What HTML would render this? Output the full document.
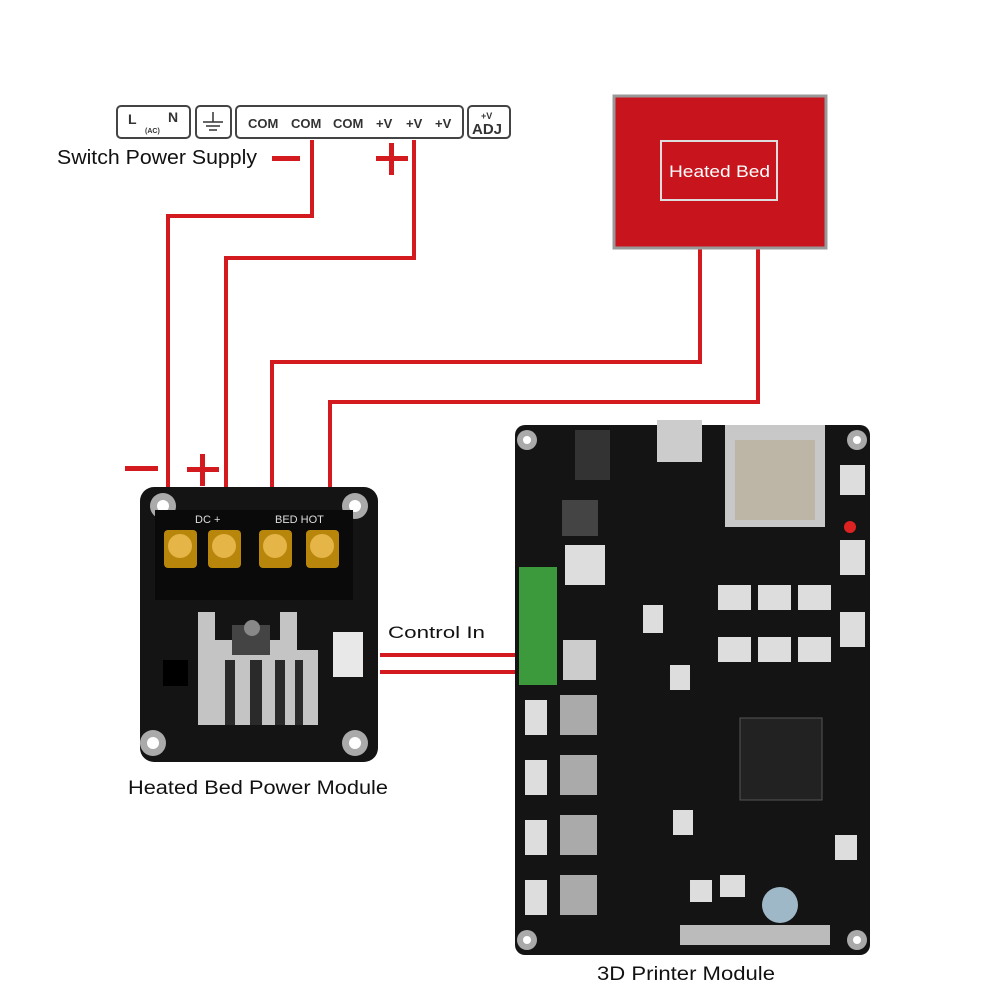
<!DOCTYPE html>
<html><head><style>
body{margin:0;background:#fff;}
svg{display:block;}
text{font-family:"Liberation Sans",sans-serif;}
</style></head><body>
<svg width="1000" height="1000" viewBox="0 0 1000 1000" xmlns="http://www.w3.org/2000/svg">
<rect width="1000" height="1000" fill="#fff"/>
<g fill="none" stroke="#444" stroke-width="2">
<rect x="117" y="106" width="73" height="32" rx="4"/>
<rect x="196" y="106" width="35" height="32" rx="4"/>
<rect x="236" y="106" width="227" height="32" rx="4"/>
<rect x="468" y="106" width="42" height="32" rx="4"/>
</g>
<g fill="#333" font-weight="bold">
<text x="128" y="124" font-size="14">L</text>
<text x="145" y="133" font-size="7">(AC)</text>
<text x="168" y="122" font-size="14">N</text>
<text x="248" y="128" font-size="13">COM</text>
<text x="291" y="128" font-size="13">COM</text>
<text x="333" y="128" font-size="13">COM</text>
<text x="376" y="128" font-size="13">+V</text>
<text x="406" y="128" font-size="13">+V</text>
<text x="435" y="128" font-size="13">+V</text>
<text x="481" y="119" font-size="9">+V</text>
<text x="472" y="134" font-size="15">ADJ</text>
</g>
<g stroke="#333" stroke-width="1.5"><line x1="213" y1="112" x2="213" y2="122"/><line x1="203" y1="122" x2="223" y2="122"/><line x1="206" y1="126" x2="220" y2="126"/><line x1="209" y1="130" x2="217" y2="130"/></g>
<text x="57" y="164" font-size="20" fill="#111" textLength="200" lengthAdjust="spacingAndGlyphs">Switch Power Supply</text>
<g fill="#d21a1f">
<rect x="272" y="156" width="28" height="5"/>
<rect x="376" y="156" width="32" height="5"/><rect x="389" y="143" width="5" height="32"/>
<rect x="125" y="466" width="33" height="5"/>
<rect x="187" y="467" width="32" height="5"/><rect x="200" y="454" width="5" height="32"/>
</g>
<g fill="none" stroke="#d21a1f" stroke-width="4">
<polyline points="312,140 312,216 168,216 168,492"/>
<polyline points="414,140 414,258 226,258 226,492"/>
<polyline points="700,248 700,362 272,362 272,492"/>
<polyline points="758,248 758,402 330,402 330,492"/>
<line x1="380" y1="655" x2="528" y2="655"/>
<line x1="380" y1="672" x2="528" y2="672"/>
</g>
<rect x="614" y="96" width="212" height="152" fill="#c8141c" stroke="#999" stroke-width="3"/>
<rect x="661" y="141" width="116" height="59" fill="none" stroke="#ddd" stroke-width="2"/>
<text x="669" y="177" font-size="17" fill="#fff" textLength="101" lengthAdjust="spacingAndGlyphs">Heated Bed</text>
<rect x="140" y="487" width="238" height="275" rx="14" fill="#141414"/>
<g fill="#aaa"><circle cx="163" cy="506" r="13"/><circle cx="355" cy="506" r="13"/><circle cx="153" cy="743" r="13"/><circle cx="355" cy="743" r="13"/></g>
<g fill="#fff"><circle cx="163" cy="506" r="6"/><circle cx="355" cy="506" r="6"/><circle cx="153" cy="743" r="6"/><circle cx="355" cy="743" r="6"/></g>
<rect x="155" y="510" width="100" height="90" fill="#0a0a0a"/>
<rect x="255" y="510" width="98" height="90" fill="#0a0a0a"/>
<g fill="#b8860b"><rect x="164" y="530" width="33" height="38" rx="4"/><rect x="208" y="530" width="33" height="38" rx="4"/><rect x="259" y="530" width="33" height="38" rx="4"/><rect x="306" y="530" width="33" height="38" rx="4"/></g>
<g fill="#e5b548"><circle cx="180" cy="546" r="12"/><circle cx="224" cy="546" r="12"/><circle cx="275" cy="546" r="12"/><circle cx="322" cy="546" r="12"/></g>
<text x="195" y="523" font-size="11" fill="#ddd">DC +</text>
<text x="275" y="523" font-size="11" fill="#ddd">BED HOT</text>
<path d="M198,612 L215,612 L215,640 L280,640 L280,612 L297,612 L297,650 L318,650 L318,725 L198,725 Z" fill="#c4c4c4"/>
<rect x="232" y="625" width="38" height="30" fill="#444"/>
<circle cx="252" cy="628" r="8" fill="#888"/>
<g fill="#2a2a2a"><rect x="225" y="660" width="10" height="65"/><rect x="250" y="660" width="12" height="65"/><rect x="275" y="660" width="10" height="65"/><rect x="295" y="660" width="8" height="65"/></g>
<rect x="333" y="632" width="30" height="45" fill="#e8e8e8"/>
<rect x="163" y="660" width="25" height="26" fill="#000"/>
<text x="128" y="794" font-size="19" fill="#111" textLength="260" lengthAdjust="spacingAndGlyphs">Heated Bed Power Module</text>
<text x="388" y="638" font-size="17" fill="#111" textLength="97" lengthAdjust="spacingAndGlyphs">Control In</text>
<rect x="515" y="425" width="355" height="530" rx="10" fill="#141414"/>
<g fill="#aaa"><circle cx="527" cy="440" r="10"/><circle cx="857" cy="440" r="10"/><circle cx="527" cy="940" r="10"/><circle cx="857" cy="940" r="10"/></g>
<g fill="#fff"><circle cx="527" cy="440" r="4"/><circle cx="857" cy="440" r="4"/><circle cx="527" cy="940" r="4"/><circle cx="857" cy="940" r="4"/></g>
<rect x="725" y="425" width="100" height="102" fill="#c8c8c8"/>
<rect x="735" y="440" width="80" height="80" fill="#bdb5a5"/>
<rect x="657" y="420" width="45" height="42" fill="#ccc"/>
<rect x="575" y="430" width="35" height="50" fill="#333"/>
<rect x="562" y="500" width="36" height="36" fill="#444"/>
<rect x="565" y="545" width="40" height="40" fill="#ddd"/>
<rect x="519" y="567" width="38" height="118" fill="#3c9a3c"/>
<rect x="563" y="640" width="33" height="40" fill="#ccc"/>
<rect x="740" y="718" width="82" height="82" fill="#222" stroke="#555"/>
<g fill="#aaa"><rect x="560" y="695" width="37" height="40"/><rect x="560" y="755" width="37" height="40"/><rect x="560" y="815" width="37" height="40"/><rect x="560" y="875" width="37" height="40"/></g>
<g fill="#ddd"><rect x="525" y="700" width="22" height="35"/><rect x="525" y="760" width="22" height="35"/><rect x="525" y="820" width="22" height="35"/><rect x="525" y="880" width="22" height="35"/>
<rect x="718" y="585" width="33" height="25"/><rect x="758" y="585" width="33" height="25"/><rect x="798" y="585" width="33" height="25"/>
<rect x="718" y="637" width="33" height="25"/><rect x="758" y="637" width="33" height="25"/><rect x="798" y="637" width="33" height="25"/>
<rect x="840" y="465" width="25" height="30"/><rect x="840" y="540" width="25" height="35"/><rect x="840" y="612" width="25" height="35"/>
<rect x="643" y="605" width="20" height="28"/><rect x="670" y="665" width="20" height="25"/><rect x="673" y="810" width="20" height="25"/>
<rect x="720" y="875" width="25" height="22"/><rect x="690" y="880" width="22" height="22"/><rect x="835" y="835" width="22" height="25"/></g>
<circle cx="780" cy="905" r="18" fill="#9fb8c8"/>
<rect x="680" y="925" width="150" height="20" fill="#bbb"/>
<circle cx="850" cy="527" r="6" fill="#d22"/>
<text x="597" y="980" font-size="19" fill="#111" textLength="178" lengthAdjust="spacingAndGlyphs">3D Printer Module</text>
</svg>
</body></html>
